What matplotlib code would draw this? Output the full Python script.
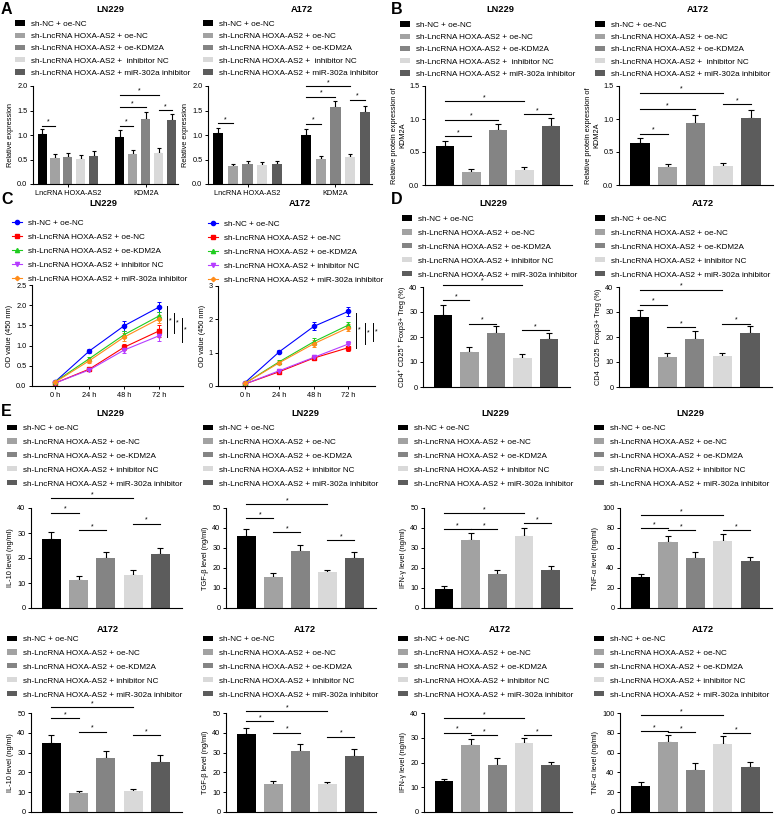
import matplotlib
matplotlib.use('Agg')
import matplotlib.pyplot as plt
from matplotlib.patches import Patch
from matplotlib.lines import Line2D
import numpy as np

plt.rcParams['font.family'] = ['Liberation Sans', 'DejaVu Sans']

W, H = 778, 816

# ---- data ----
groups_ab = ['sh-NC + oe-NC', 'sh-LncRNA HOXA-AS2 + oe-NC', 'sh-LncRNA HOXA-AS2 + oe-KDM2A',
             'sh-LncRNA HOXA-AS2 +  inhibitor NC', 'sh-LncRNA HOXA-AS2 + miR-302a inhibitor']
groups = ['sh-NC + oe-NC', 'sh-LncRNA HOXA-AS2 + oe-NC', 'sh-LncRNA HOXA-AS2 + oe-KDM2A',
          'sh-LncRNA HOXA-AS2 + inhibitor NC', 'sh-LncRNA HOXA-AS2 + miR-302a inhibitor']
genes = ['LncRNA HOXA-AS2', 'KDM2A']
timepoints = ['0 h', '24 h', '48 h', '72 h']

# A: relative expression (gene -> 5 groups)
a_ln229 = [[1.03, 0.54, 0.56, 0.51, 0.58], [0.95, 0.62, 1.32, 0.63, 1.30]]
a_ln229_err = [[0.09, 0.07, 0.08, 0.08, 0.09], [0.15, 0.07, 0.14, 0.10, 0.12]]
a_ln229_sig = [(0, 0, 1, 1.19), (1, 0, 1, 1.19), (1, 0, 2, 1.57), (1, 0, 3, 1.82), (1, 3, 4, 1.51)]
a_a172 = [[1.04, 0.36, 0.40, 0.39, 0.40], [1.00, 0.51, 1.57, 0.55, 1.47]]
a_a172_err = [[0.10, 0.05, 0.06, 0.06, 0.06], [0.13, 0.06, 0.13, 0.06, 0.13]]
a_a172_sig = [(0, 0, 1, 1.24), (1, 0, 1, 1.23), (1, 0, 2, 1.78), (1, 0, 3, 1.99), (1, 3, 4, 1.72)]

# B: KDM2A protein
b_ln229 = [0.59, 0.20, 0.83, 0.23, 0.90]
b_ln229_err = [0.075, 0.04, 0.09, 0.05, 0.11]
b_ln229_sig = [(0, 1, 0.74), (0, 2, 0.99), (0, 3, 1.27), (3, 4, 1.07)]
b_a172 = [0.63, 0.28, 0.94, 0.29, 1.02]
b_a172_err = [0.08, 0.045, 0.12, 0.045, 0.12]
b_a172_sig = [(0, 1, 0.78), (0, 2, 1.15), (0, 3, 1.40), (3, 4, 1.22)]

# C: CCK-8 OD values
c_ln229 = [[0.10, 0.87, 1.49, 1.95], [0.07, 0.42, 0.96, 1.36], [0.10, 0.68, 1.27, 1.73],
           [0.07, 0.40, 0.89, 1.24], [0.09, 0.63, 1.21, 1.66]]
c_ln229_err = [[0.02, 0.05, 0.13, 0.12], [0.02, 0.05, 0.08, 0.15], [0.02, 0.05, 0.08, 0.10],
               [0.02, 0.04, 0.07, 0.12], [0.02, 0.05, 0.09, 0.10]]
c_ln229_sig = [(3.23, 1.98, 1.22), (3.44, 1.81, 1.30), (3.66, 1.69, 1.10)]
c_a172 = [[0.10, 1.03, 1.79, 2.24], [0.06, 0.43, 0.84, 1.15], [0.08, 0.73, 1.33, 1.83],
          [0.06, 0.46, 0.86, 1.26], [0.08, 0.70, 1.27, 1.75]]
c_a172_err = [[0.02, 0.04, 0.12, 0.13], [0.02, 0.04, 0.07, 0.10], [0.02, 0.05, 0.11, 0.10],
              [0.02, 0.04, 0.06, 0.08], [0.02, 0.05, 0.10, 0.10]]
c_a172_sig = [(3.22, 2.20, 1.15), (3.48, 1.90, 1.27), (3.71, 1.88, 1.36)]

# D: Treg percentage
d_ln229 = [28.9, 14.0, 21.6, 11.6, 19.2]
d_ln229_err = [3.8, 1.9, 2.7, 1.6, 2.4]
d_ln229_sig = [(0, 1, 34.7), (0, 3, 40.9), (1, 2, 25.3), (3, 4, 22.7)]
d_a172 = [27.9, 11.9, 19.3, 12.3, 21.6]
d_a172_err = [3.1, 1.7, 3.0, 1.3, 2.7]
d_a172_sig = [(0, 1, 32.9), (0, 3, 38.9), (1, 2, 23.9), (3, 4, 25.3)]

# E: cytokines
il10_ln229 = [27.7, 11.1, 20.0, 13.3, 21.7]
il10_ln229_err = [2.7, 1.7, 2.4, 1.8, 2.3]
il10_ln229_sig = [(0, 1, 38.1), (0, 3, 44.0), (1, 2, 31.1), (3, 4, 33.7)]
tgf_ln229 = [36.0, 15.5, 28.5, 18.0, 25.0]
tgf_ln229_err = [3.5, 1.8, 3.0, 1.2, 3.2]
tgf_ln229_sig = [(0, 1, 45.0), (0, 3, 52.0), (1, 2, 38.0), (3, 4, 34.0)]
ifn_ln229 = [9.5, 34.0, 17.0, 36.2, 19.0]
ifn_ln229_err = [1.7, 3.7, 2.2, 3.8, 2.2]
ifn_ln229_sig = [(0, 1, 39.5), (0, 3, 47.5), (1, 2, 39.5), (3, 4, 42.3)]
tnf_ln229 = [31.0, 66.0, 50.0, 67.0, 47.0]
tnf_ln229_err = [3.5, 6.0, 6.0, 7.0, 4.0]
tnf_ln229_sig = [(0, 1, 80.0), (0, 3, 93.0), (1, 2, 78.0), (3, 4, 78.0)]

il10_a172 = [35.0, 9.5, 27.5, 10.5, 25.5]
il10_a172_err = [3.8, 1.0, 3.3, 1.2, 3.3]
il10_a172_sig = [(0, 1, 47.5), (0, 3, 53.0), (1, 2, 40.5), (3, 4, 38.7)]
tgf_a172 = [39.5, 14.0, 31.0, 14.0, 28.5]
tgf_a172_err = [3.0, 1.5, 3.5, 1.2, 3.5]
tgf_a172_sig = [(0, 1, 46.0), (0, 3, 51.0), (1, 2, 40.0), (3, 4, 38.0)]
ifn_a172 = [12.5, 27.0, 19.0, 28.0, 19.0]
ifn_a172_err = [0.8, 2.5, 2.8, 1.8, 1.3]
ifn_a172_sig = [(0, 1, 32.0), (0, 3, 38.0), (1, 2, 31.0), (3, 4, 31.0)]
tnf_a172 = [26.0, 70.7, 42.3, 69.0, 45.0]
tnf_a172_err = [4.7, 7.0, 6.7, 7.7, 5.7]
tnf_a172_sig = [(0, 1, 81.7), (0, 3, 97.7), (1, 2, 80.7), (3, 4, 79.3)]

bar_colors = ['#000000', '#a2a2a2', '#848484', '#d9d9d9', '#5c5c5c']
line_colors = ['#0000ff', '#ff0000', '#1fcc1f', '#b53cff', '#ff8c1a']
line_markers = ['o', 's', '^', 'v', 'D']

FS = 5.3     # tick / axis label size
LFS = 5.9    # legend size

fig = plt.figure(figsize=(W / 100, H / 100), dpi=100)


def px_axes(l, t, r, b):
    ax = fig.add_axes([l / W, 1 - b / H, (r - l) / W, (b - t) / H])
    for s in ['top', 'right']:
        ax.spines[s].set_visible(False)
    for s in ['left', 'bottom']:
        ax.spines[s].set_linewidth(0.8)
    ax.tick_params(labelsize=FS, length=2.5, width=0.7, pad=1.5)
    return ax


def title(x, y, txt):
    fig.text(x / W, 1 - y / H, txt, ha='center', va='center', fontsize=6.7, fontweight='bold')


def letter(x, y, txt):
    fig.text(x / W, 1 - y / H, txt, ha='left', va='center', fontsize=11.5, fontweight='bold')


def legend(handles, labels, x, y, spacing=0.78, hl=1.25, pad=0.7):
    fig.legend(handles, labels, loc='upper left', bbox_to_anchor=(x / W, 1 - (y - 2.5) / H),
               bbox_transform=fig.transFigure, frameon=False, fontsize=LFS, borderpad=0,
               borderaxespad=0, handlelength=hl, handleheight=0.6, handletextpad=pad,
               labelspacing=spacing)


def bar_legend(labels, x, y, spacing=0.78):
    hs = [Patch(facecolor=c, edgecolor='none') for c in bar_colors]
    legend(hs, labels, x, y, spacing)


def bracket(ax, x0, x1, y):
    ax.plot([x0, x1], [y, y], color='black', lw=0.8, clip_on=False)
    ax.text((x0 + x1) / 2, y, '*', ha='center', va='bottom', fontsize=5, clip_on=False)


def bar_panel(box, vals, errs, sig, ymax, step, ylabel, fmt='{:.0f}'):
    ax = px_axes(*box)
    x = np.arange(len(vals))
    ax.bar(x, vals, width=0.7, color=bar_colors, zorder=2)
    ax.errorbar(x, vals, yerr=[np.zeros(len(vals)), errs], fmt='none', ecolor='black',
                elinewidth=0.8, capsize=2.4, capthick=0.8, zorder=1)
    for i, j, y in sig:
        bracket(ax, x[i], x[j], y)
    ax.set_xlim(-0.75, 4.8)
    ax.set_ylim(0, ymax)
    ticks = np.arange(0, ymax + step / 2, step)
    ax.set_yticks(ticks)
    ax.set_yticklabels([fmt.format(t) for t in ticks])
    ax.set_xticks([])
    ax.set_ylabel(ylabel, fontsize=FS, labelpad=2)
    return ax


def expr_panel(box, vals, errs, sig):
    ax = px_axes(*box)
    offs = [0, 6]
    for g in range(2):
        x = np.arange(5) + offs[g]
        ax.bar(x, vals[g], width=0.7, color=bar_colors, zorder=2)
        ax.errorbar(x, vals[g], yerr=[np.zeros(5), errs[g]], fmt='none', ecolor='black',
                    elinewidth=0.8, capsize=1.5, capthick=0.8, zorder=1)
    for g, i, j, y in sig:
        bracket(ax, i + offs[g], j + offs[g], y)
    ax.set_xlim(-0.7, 10.5)
    ax.set_ylim(0, 2.0)
    ax.set_yticks(np.arange(0, 2.01, 0.5))
    ax.set_yticklabels(['{:.1f}'.format(t) for t in np.arange(0, 2.01, 0.5)])
    ax.set_xticks([2, 8])
    ax.set_xticklabels(genes, fontsize=FS)
    ax.set_ylabel('Relative expression', fontsize=FS, labelpad=2)


def od_panel(box, vals, errs, sig, xlim, ymax, step, fmt):
    ax = px_axes(*box)
    x = np.arange(len(timepoints))
    for k in range(5):
        ax.errorbar(x, vals[k], yerr=errs[k], color=line_colors[k], marker=line_markers[k],
                    markersize=3 if k != 4 else 2.2, lw=0.8, elinewidth=0.7, capsize=1.6,
                    capthick=0.7, clip_on=False)
    for xs, y0, y1 in sig:
        ax.plot([xs, xs], [y0, y1], color='black', lw=0.7, clip_on=False)
        ax.text(xs + 0.06, (y0 + y1) / 2, '*', ha='left', va='center', fontsize=5, clip_on=False)
    ax.set_xlim(*xlim)
    ax.set_ylim(0, ymax)
    ticks = np.arange(0, ymax + step / 2, step)
    ax.set_yticks(ticks)
    ax.set_yticklabels([fmt.format(t) for t in ticks])
    ax.set_xticks(x)
    ax.set_xticklabels(timepoints, fontsize=FS)
    ax.set_ylabel('OD value (450 nm)', fontsize=FS, labelpad=2)


# ---- A ----
letter(1, 9, 'A')
title(110, 10, 'LN229')
bar_legend(groups_ab, 15, 23, spacing=0.58)
expr_panel((33, 86, 178, 184), a_ln229, a_ln229_err, a_ln229_sig)
title(302, 10, 'A172')
bar_legend(groups_ab, 203, 23, spacing=0.58)
expr_panel((208, 86, 372, 184), a_a172, a_a172_err, a_a172_sig)

# ---- B ----
letter(391, 9, 'B')
title(500, 10, 'LN229')
bar_legend(groups_ab, 400, 24, spacing=0.58)
bar_panel((425, 86, 572, 185), b_ln229, b_ln229_err, b_ln229_sig, 1.5, 0.5,
          'Relative protein expression of\nKDM2A', '{:.1f}')
title(698, 10, 'A172')
bar_legend(groups_ab, 595, 24, spacing=0.58)
bar_panel((619, 86, 773, 185), b_a172, b_a172_err, b_a172_sig, 1.5, 0.5,
          'Relative protein expression of\nKDM2A', '{:.1f}')

# ---- C ----
letter(1, 200, 'C')
line_handles = [Line2D([], [], color=line_colors[k], marker=line_markers[k], lw=0.8,
                       markersize=3 if k != 4 else 2.2) for k in range(5)]
title(103, 204, 'LN229')
legend(line_handles, groups, 12, 222)
od_panel((32, 285, 183, 386), c_ln229, c_ln229_err, c_ln229_sig, (-0.66, 3.7), 2.5, 0.5, '{:.1f}')
title(300, 204, 'A172')
legend(line_handles, groups, 208, 223)
od_panel((218, 286, 375, 386), c_a172, c_a172_err, c_a172_sig, (-0.78, 3.77), 3, 1, '{:.0f}')

# ---- D ----
letter(391, 200, 'D')
title(493, 203, 'LN229')
bar_legend(groups, 402, 218)
bar_panel((423, 287, 570, 387), d_ln229, d_ln229_err, d_ln229_sig, 40, 10,
          'CD4\u207a CD25\u207a Foxp3+ Treg (%)')
title(703, 204, 'A172')
bar_legend(groups, 595, 218)
bar_panel((619, 287, 772, 387), d_a172, d_a172_err, d_a172_sig, 40, 10,
          'CD4  CD25  Foxp3+ Treg (%)')

# ---- E ----
letter(1, 411, 'E')
cols = [(31, 182), (226, 376), (424, 572), (620, 772)]
leg_x = [7, 203, 398, 594]
row1 = [(il10_ln229, il10_ln229_err, il10_ln229_sig, 40, 10, 'IL-10 level (ng/ml)'),
        (tgf_ln229, tgf_ln229_err, tgf_ln229_sig, 50, 10, 'TGF-\u03b2 level (ng/ml)'),
        (ifn_ln229, ifn_ln229_err, ifn_ln229_sig, 50, 10, 'IFN-\u03b3 level (ng/ml)'),
        (tnf_ln229, tnf_ln229_err, tnf_ln229_sig, 100, 20, 'TNF-\u03b1 level (ng/ml)')]
row2 = [(il10_a172, il10_a172_err, il10_a172_sig, 50, 10, 'IL-10 level (ng/ml)'),
        (tgf_a172, tgf_a172_err, tgf_a172_sig, 50, 10, 'TGF-\u03b2 level (ng/ml)'),
        (ifn_a172, ifn_a172_err, ifn_a172_sig, 40, 10, 'IFN-\u03b3 level (ng/ml)'),
        (tnf_a172, tnf_a172_err, tnf_a172_sig, 100, 20, 'TNF-\u03b1 level (ng/ml)')]
title_x1 = [110, 305, 495, 690]
title_x2 = [108, 305, 500, 703]
for c in range(4):
    v, e, s, ym, st, yl = row1[c]
    title(title_x1[c], 414, 'LN229')
    bar_legend(groups, leg_x[c], 427)
    bar_panel((cols[c][0], 508, cols[c][1], 608), v, e, s, ym, st, yl)
    v, e, s, ym, st, yl = row2[c]
    title(title_x2[c], 629, 'A172')
    bar_legend(groups, leg_x[c], 638)
    bar_panel((cols[c][0], 713, cols[c][1], 812), v, e, s, ym, st, yl)

fig.savefig('out.png', dpi=100)
